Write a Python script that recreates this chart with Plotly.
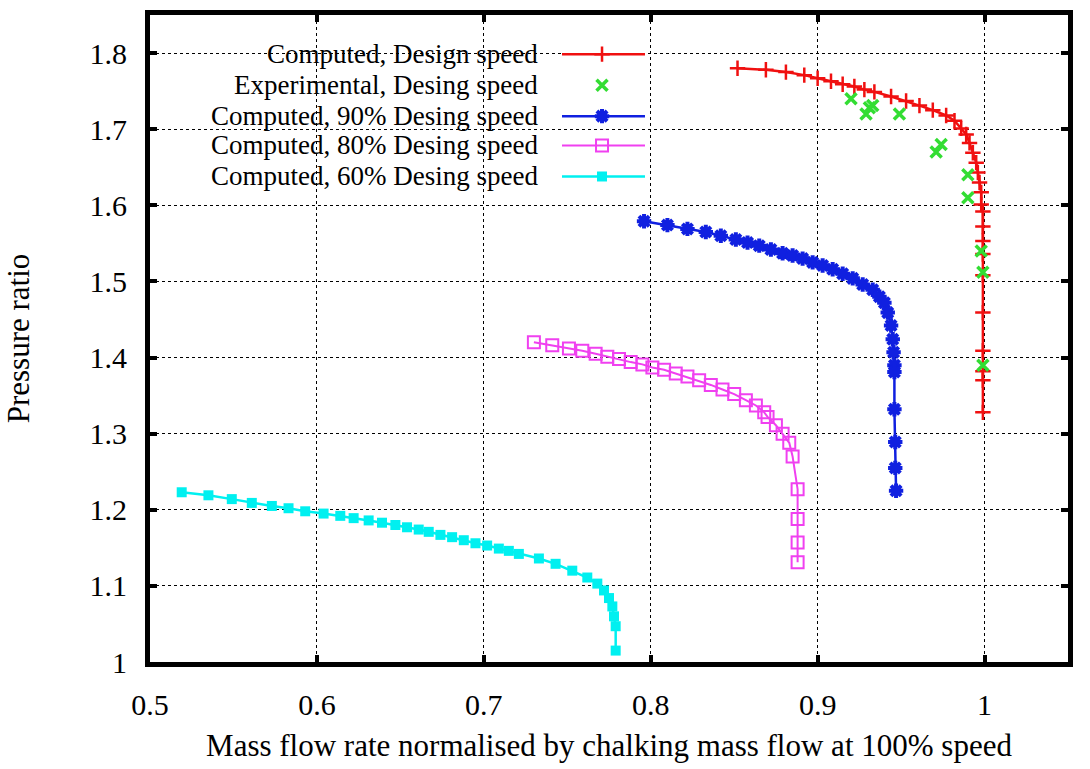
import plotly.graph_objects as go

# ---------------- data ----------------
design_x = [0.852, 0.869, 0.881, 0.892, 0.900, 0.908, 0.915, 0.922, 0.928, 0.934, 0.944,
            0.953, 0.961, 0.969, 0.977, 0.982, 0.986, 0.989, 0.991, 0.993, 0.995, 0.996,
            0.997, 0.998, 0.998, 0.999, 0.999, 0.999, 0.999, 0.999, 0.999, 0.999, 0.999,
            0.999, 0.999]
design_y = [1.780, 1.778, 1.775, 1.771, 1.767, 1.763, 1.759, 1.756, 1.752, 1.749, 1.743,
            1.737, 1.731, 1.725, 1.718, 1.711, 1.701, 1.693, 1.682, 1.669, 1.656, 1.643,
            1.630, 1.617, 1.601, 1.592, 1.572, 1.553, 1.536, 1.508, 1.459, 1.409, 1.382,
            1.370, 1.328]

exp_x = [0.920, 0.929, 0.931, 0.933, 0.949, 0.971, 0.974, 0.990, 0.990, 0.998, 0.999, 0.999]
exp_y = [1.740, 1.720, 1.728, 1.731, 1.720, 1.670, 1.680, 1.640, 1.610, 1.540, 1.512, 1.390]

s90_x = [0.796, 0.810, 0.822, 0.833, 0.842, 0.851, 0.858, 0.865, 0.872, 0.879, 0.885,
         0.891, 0.897, 0.903, 0.909, 0.915, 0.921, 0.927, 0.933, 0.937, 0.940, 0.942,
         0.944, 0.945, 0.9455, 0.946, 0.946, 0.946, 0.9465, 0.9465, 0.947]
s90_y = [1.579, 1.574, 1.569, 1.565, 1.560, 1.555, 1.551, 1.547, 1.542, 1.537, 1.534,
         1.530, 1.525, 1.521, 1.516, 1.510, 1.504, 1.496, 1.489, 1.480, 1.472, 1.459,
         1.442, 1.424, 1.407, 1.390, 1.381, 1.332, 1.289, 1.255, 1.225]

s80_x = [0.730, 0.741, 0.751, 0.759, 0.767, 0.774, 0.781, 0.788, 0.795, 0.801, 0.808,
         0.815, 0.822, 0.829, 0.836, 0.843, 0.850, 0.857, 0.863, 0.868, 0.870, 0.875,
         0.879, 0.883, 0.885, 0.888, 0.888, 0.888, 0.888]
s80_y = [1.420, 1.416, 1.412, 1.409, 1.405, 1.401, 1.398, 1.394, 1.391, 1.387, 1.384,
         1.379, 1.375, 1.370, 1.364, 1.358, 1.352, 1.344, 1.337, 1.328, 1.322, 1.311,
         1.300, 1.288, 1.270, 1.227, 1.188, 1.157, 1.131]

s60_x = [0.519, 0.535, 0.549, 0.561, 0.573, 0.583, 0.593, 0.604, 0.614, 0.622, 0.631,
         0.639, 0.647, 0.654, 0.661, 0.667, 0.674, 0.681, 0.688, 0.695, 0.702, 0.709,
         0.715, 0.721, 0.733, 0.743, 0.753, 0.762, 0.768, 0.772, 0.775, 0.777, 0.778,
         0.779, 0.779]
s60_y = [1.223, 1.219, 1.214, 1.209, 1.205, 1.202, 1.198, 1.195, 1.192, 1.189, 1.186,
         1.183, 1.180, 1.177, 1.174, 1.171, 1.167, 1.164, 1.160, 1.156, 1.153, 1.149,
         1.146, 1.142, 1.136, 1.129, 1.120, 1.111, 1.103, 1.094, 1.084, 1.073, 1.060,
         1.047, 1.015]

x_ticks = [0.5, 0.6, 0.7, 0.8, 0.9, 1.0]
x_tick_labels = ["0.5", "0.6", "0.7", "0.8", "0.9", "1"]
y_ticks = [1.0, 1.1, 1.2, 1.3, 1.4, 1.5, 1.6, 1.7, 1.8]
y_tick_labels = ["1", "1.1", "1.2", "1.3", "1.4", "1.5", "1.6", "1.7", "1.8"]

series_names = ["Computed, Design speed", "Experimental, Desing speed",
                "Computed, 90% Desing speed", "Computed, 80% Desing speed",
                "Computed, 60% Desing speed"]

# ---------------- styles ----------------
RED = "#f01010"
GREEN = "#33dd33"
BLUE = "#1020e0"
MAGENTA = "#f040f0"
CYAN = "#00f0f0"
FONT = "Liberation Serif"

styles = [
    dict(mode="lines+markers", line=dict(color=RED, width=2.5),
         marker=dict(symbol="cross-thin", size=11, line=dict(color=RED, width=2.5))),
    dict(mode="markers",
         marker=dict(symbol="x-thin", size=11, color=GREEN, line=dict(color=GREEN, width=3.5))),
    dict(mode="lines+markers", line=dict(color=BLUE, width=2.5),
         marker=dict(symbol="asterisk", size=12, color=BLUE, line=dict(color=BLUE, width=4))),
    dict(mode="lines+markers", line=dict(color=MAGENTA, width=2),
         marker=dict(symbol="square-open", size=12, color=MAGENTA, line=dict(color=MAGENTA, width=2))),
    dict(mode="lines+markers", line=dict(color=CYAN, width=2.5),
         marker=dict(symbol="square", size=10, color=CYAN, line=dict(width=0))),
]

data = [(design_x, design_y), (exp_x, exp_y), (s90_x, s90_y), (s80_x, s80_y), (s60_x, s60_y)]

fig = go.Figure()
for (xs, ys), name, st in zip(data, series_names, styles):
    fig.add_trace(go.Scatter(x=xs, y=ys, name=name, showlegend=False, **st))

# ---------------- gnuplot-like legend (text left, sample right) ----------------
row_y = [0.9395, 0.8915, 0.8437, 0.7983, 0.7504]
sample_x0, sample_xm, sample_x1 = 0.4488, 0.4924, 0.5392
text_right = 0.4250
for name, st, yy in zip(series_names, styles, row_y):
    if "lines" in st["mode"]:
        fig.add_trace(go.Scatter(x=[sample_x0, sample_x1], y=[yy, yy], mode="lines",
                                 line=st["line"], xaxis="x2", yaxis="y2",
                                 showlegend=False, hoverinfo="skip"))
    fig.add_trace(go.Scatter(x=[sample_xm], y=[yy], mode="markers", marker=st["marker"],
                             xaxis="x2", yaxis="y2", showlegend=False, hoverinfo="skip"))
    fig.add_annotation(x=text_right, y=yy, xref="paper", yref="paper", text=name,
                       showarrow=False, xanchor="right", yanchor="middle",
                       font=dict(family=FONT, size=27, color="black"))

axis_common = dict(showline=True, linewidth=5, linecolor="black", mirror="ticks",
                   ticks="inside", ticklen=7, tickwidth=4, tickcolor="black",
                   showgrid=True, gridcolor="black", gridwidth=1.3, griddash="dot",
                   zeroline=False, tickfont=dict(family=FONT, size=30, color="black"))

fig.update_layout(
    width=1090, height=769,
    margin=dict(l=150, r=22, t=10, b=98),
    paper_bgcolor="white", plot_bgcolor="white",
    font=dict(family=FONT, color="black"),
    showlegend=False,
    xaxis=dict(range=[0.5, 1.05], tickvals=x_ticks, ticktext=x_tick_labels,
               ticklabelstandoff=12,
               title=dict(text="Mass flow rate normalised by chalking mass flow at 100% speed",
                          font=dict(family=FONT, size=31), standoff=16),
               **axis_common),
    yaxis=dict(range=[1.0, 1.85], tickvals=y_ticks, ticktext=y_tick_labels,
               ticklabelstandoff=12,
               title=dict(text="Pressure ratio", font=dict(family=FONT, size=31), standoff=52),
               **axis_common),
    xaxis2=dict(range=[0, 1], overlaying="x", visible=False, fixedrange=True),
    yaxis2=dict(range=[0, 1], overlaying="y", visible=False, fixedrange=True),
)

fig.write_html("out.html")
